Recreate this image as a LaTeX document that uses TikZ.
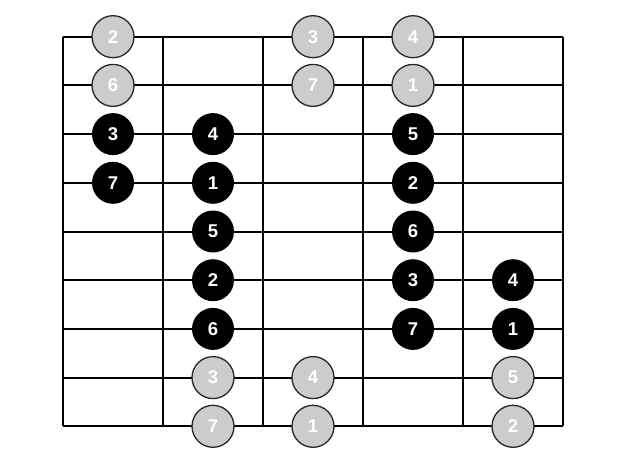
\documentclass[tikz,border=0pt]{standalone}
\usepackage{fontspec}
\setmainfont{Liberation Sans}
\usetikzlibrary{positioning}

\begin{document}
\begin{tikzpicture}[
        x=1pt, y=-1pt,
        fret/.style={line width=2pt},
        dot/.style={circle, minimum size=42pt, inner sep=0pt, font=\fontsize{18.5}{18.5}\selectfont\bfseries, text=white},
        outer/.style={dot, draw=black!85, line width=1.3pt, fill=black!20},
        inner/.style={dot, fill=black}
    ]
        \useasboundingbox (0,0) rectangle (625,464);

        % Strings
        \foreach \y in {0,...,8}
            \draw[fret] (62.5,36.7+48.7*\y) -- (562.7,36.7+48.7*\y);

        % Frets
        \foreach \x in {0,...,5}
            \draw[fret] (62.5+100*\x,36.7) -- (62.5+100*\x,426.3);

        % Upper grey notes
        \node[outer] (r0c0) at (113,36.7) {2};
        \node[outer] (r0c2) at (313,36.7) {3};
        \node[outer] (r0c3) at (413,36.7) {4};
        \node[outer] (r1c0) at (113,85.4) {6};
        \node[outer] (r1c2) at (313,85.4) {7};
        \node[outer] (r1c3) at (413,85.4) {1};

        % Black notes
        \node[inner] (r2c0) at (113,134.1) {3};
        \node[inner] (r2c1) at (213,134.1) {4};
        \node[inner] (r2c3) at (413,134.1) {5};
        \node[inner] (r3c0) at (113,182.8) {7};
        \node[inner] (r3c1) at (213,182.8) {1};
        \node[inner] (r3c3) at (413,182.8) {2};
        \node[inner] (r4c1) at (213,231.5) {5};
        \node[inner] (r4c3) at (413,231.5) {6};
        \node[inner] (r5c1) at (213,280.2) {2};
        \node[inner] (r5c3) at (413,280.2) {3};
        \node[inner] (r5c4) at (513,280.2) {4};
        \node[inner] (r6c1) at (213,328.9) {6};
        \node[inner] (r6c3) at (413,328.9) {7};
        \node[inner] (r6c4) at (513,328.9) {1};

        % Lower grey notes
        \node[outer] (r7c1) at (213,377.6) {3};
        \node[outer] (r7c2) at (313,377.6) {4};
        \node[outer] (r7c4) at (513,377.6) {5};
        \node[outer] (r8c1) at (213,426.3) {7};
        \node[outer] (r8c2) at (313,426.3) {1};
        \node[outer] (r8c4) at (513,426.3) {2};
    \end{tikzpicture}
\end{document}
